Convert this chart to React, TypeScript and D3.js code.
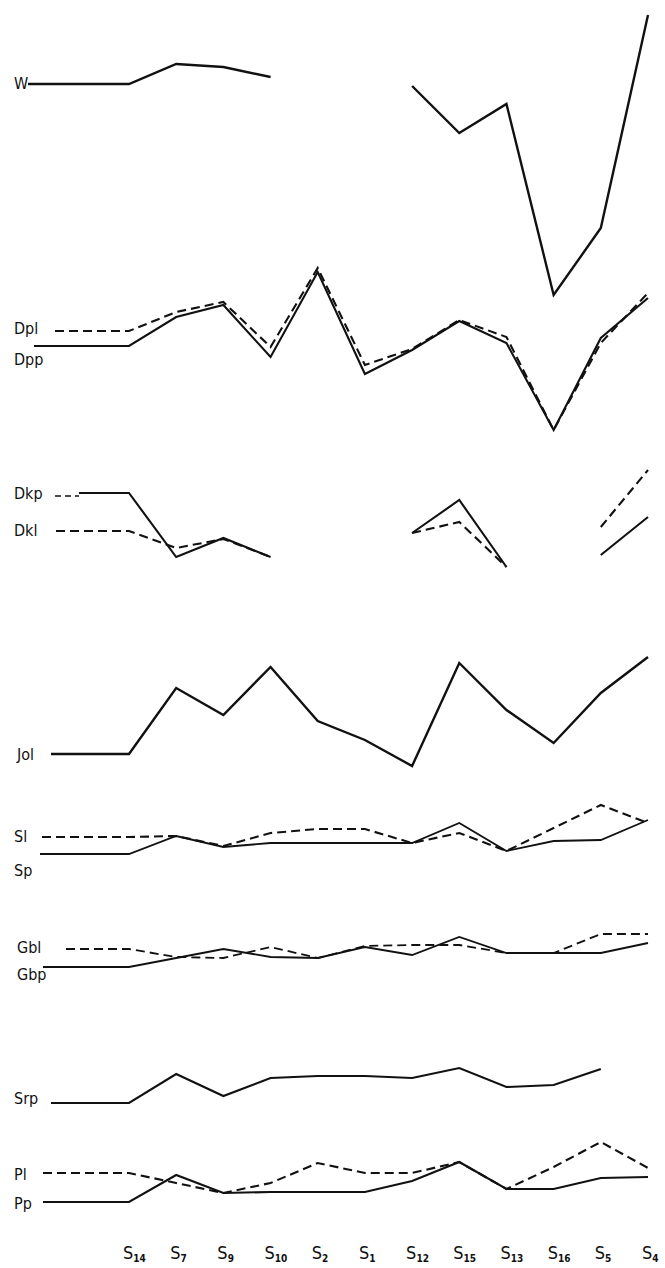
import * as d3 from 'd3'
import React from 'react'

// stations along the bottom (S + subscript)
const stations = ['S14', 'S7', 'S9', 'S10', 'S2', 'S1', 'S12', 'S15', 'S13', 'S16', 'S5', 'S4']

// values, relative units (higher = up), null = no line
const wVals = [216, 236, 233, 223, null, null, 214, 167, 196, 5, 72, 285]
const dplVals = [119, 138, 148, 103, 182, 85, 101, 130, 113, 20, 107, 157]
const dppVals = [104, 133, 145, 93, 178, 76, 100, 129, 107, 20, 112, 152]
const dkpVals = [107, 43, 62, 43, null, null, 67, 100, 33, null, 45, 83]
const dklVals = [69, 52, 61, 43, null, null, 67, 78, 33, null, 73, 130]
const jolVals = [46, 112, 85, 133, 79, 60, 34, 137, 90, 57, 107, 143]
const slVals = [63, 64, 54, 67, 71, 71, 57, 67, 49, 72, 95, 77]
const spVals = [46, 64, 53, 57, 57, 57, 57, 77, 49, 59, 60, 80]
const gblVals = [51, 43, 42, 53, 42, 54, 55, 55, 47, 47, 66, 66]
const gbpVals = [33, 42, 51, 43, 42, 53, 45, 63, 47, 47, 47, 57]
const srpVals = [47, 76, 54, 72, 74, 74, 72, 82, 63, 65, 81, null]
const plVals = [57, 47, 37, 47, 67, 57, 57, 68, 41, 63, 88, 62]
const ppVals = [28, 55, 37, 38, 38, 38, 49, 68, 41, 41, 52, 53]

const W = 665
const H = 1268
const font = 'DejaVu Sans Condensed, DejaVu Sans, sans-serif'

type Series = {
  name: string
  values: (number | null)[]
  dashed?: boolean
  lead: number // x where the leader line starts
  leadDash?: number // optional dashed bit before the leader
  labelY: number
  labelX?: number
  width?: number
}

type Panel = { origin: number; series: Series[] }

const panels: Panel[] = [
  { origin: 300, series: [{ name: 'W', values: wVals, lead: 28, labelY: 89, width: 2.4 }] },
  {
    origin: 450,
    series: [
      { name: 'Dpl', values: dplVals, dashed: true, lead: 55, labelY: 334 },
      { name: 'Dpp', values: dppVals, lead: 34, labelY: 365 }
    ]
  },
  {
    origin: 600,
    series: [
      { name: 'Dkp', values: dkpVals, lead: 79, leadDash: 55, labelY: 499 },
      { name: 'Dkl', values: dklVals, dashed: true, lead: 56, labelY: 536 }
    ]
  },
  { origin: 800, series: [{ name: 'Jol', values: jolVals, lead: 51, labelY: 760, labelX: 17, width: 2.4 }] },
  {
    origin: 900,
    series: [
      { name: 'Sl', values: slVals, dashed: true, lead: 42, labelY: 842 },
      { name: 'Sp', values: spVals, lead: 40, labelY: 876, width: 1.8 }
    ]
  },
  {
    origin: 1000,
    series: [
      { name: 'Gbl', values: gblVals, dashed: true, lead: 66, labelY: 953, labelX: 17, width: 1.8 },
      { name: 'Gbp', values: gbpVals, lead: 43, labelY: 980, labelX: 17, width: 1.8 }
    ]
  },
  { origin: 1150, series: [{ name: 'Srp', values: srpVals, lead: 51, labelY: 1104 }] },
  {
    origin: 1230,
    series: [
      { name: 'Pl', values: plVals, dashed: true, lead: 43, labelY: 1180 },
      { name: 'Pp', values: ppVals, lead: 43, labelY: 1209 }
    ]
  }
]

const x = d3.scalePoint<string>().domain(stations).range([129, 648])

type Pt = { x: number; v: number | null }

export default function App() {
  return (
    <svg
      width={W}
      height={H}
      style={{ position: 'absolute', left: 0, top: 0, background: '#fff' }}
      fontFamily={font}
    >
      <rect width={W} height={H} fill='#fff' />
      {panels.map((p, pi) => {
        const y = d3.scaleLinear().domain([0, 100]).range([p.origin, p.origin - 100])
        const line = d3
          .line<Pt>()
          .defined((d) => d.v != null)
          .x((d) => d.x)
          .y((d) => y(d.v as number))
        return (
          <g key={pi}>
            {p.series.map((s) => {
              const pts: Pt[] = [{ x: s.lead, v: s.values[0] }].concat(
                stations.map((st, i) => ({ x: x(st) as number, v: s.values[i] }))
              )
              return (
                <g key={s.name}>
                  {s.leadDash != null && (
                    <line
                      x1={s.leadDash}
                      x2={s.lead}
                      y1={y(s.values[0] as number) + 3}
                      y2={y(s.values[0] as number) + 3}
                      stroke='#111'
                      strokeWidth={1.6}
                      strokeDasharray='6,4'
                    />
                  )}
                  <path
                    d={line(pts) || ''}
                    fill='none'
                    stroke='#111'
                    strokeWidth={s.width || 2.1}
                    strokeDasharray={s.dashed ? '9,5' : undefined}
                    strokeLinejoin='miter'
                  />
                  <text x={s.labelX ?? 14} y={s.labelY} fontSize={16} fill='#111'>
                    {s.name}
                  </text>
                </g>
              )
            })}
          </g>
        )
      })}
      {stations.map((st) => (
        <text key={st} x={(x(st) as number) - 6} y={1259} fontSize={18} fill='#111'>
          S
          <tspan fontSize={10} fontWeight='bold' dy={3}>
            {st.slice(1)}
          </tspan>
        </text>
      ))}
    </svg>
  )
}
